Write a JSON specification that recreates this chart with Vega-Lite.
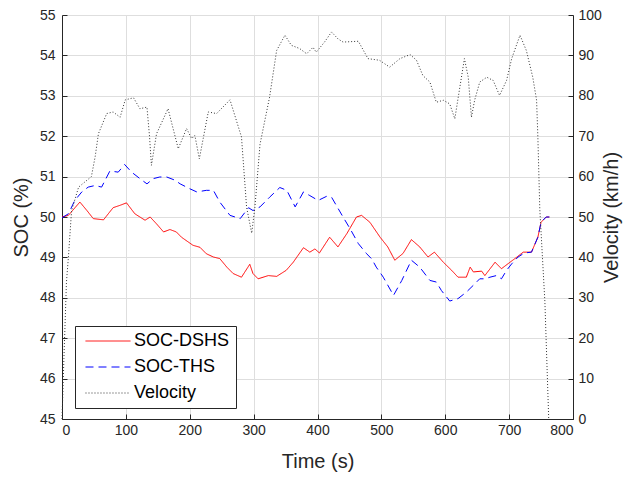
{
  "$schema": "https://vega.github.io/schema/vega-lite/v6.json",
  "width": 511,
  "height": 404,
  "autosize": "none",
  "padding": {"left": 62, "top": 15, "right": 66, "bottom": 58},
  "background": "white",
  "config": {
    "view": {"stroke": null},
    "font": "Liberation Sans",
    "axis": {
      "labelFont": "Liberation Sans",
      "titleFont": "Liberation Sans",
      "labelFontSize": 14,
      "titleFontSize": 20,
      "titleFontWeight": "normal",
      "labelColor": "#262626",
      "titleColor": "#262626",
      "domainColor": "#262626",
      "tickColor": "#262626",
      "gridColor": "#dedede",
      "tickSize": -5
    },
    "legend": {
      "labelFont": "Liberation Sans",
      "labelFontSize": 18,
      "labelColor": "#000000"
    }
  },
  "datasets": {
    "soc": [
      {"t": 0, "soc": 50.0, "series": "SOC-DSHS"},
      {"t": 10, "soc": 50.04, "series": "SOC-DSHS"},
      {"t": 28, "soc": 50.37, "series": "SOC-DSHS"},
      {"t": 39, "soc": 50.16, "series": "SOC-DSHS"},
      {"t": 49, "soc": 49.96, "series": "SOC-DSHS"},
      {"t": 65, "soc": 49.93, "series": "SOC-DSHS"},
      {"t": 80, "soc": 50.23, "series": "SOC-DSHS"},
      {"t": 91, "soc": 50.29, "series": "SOC-DSHS"},
      {"t": 101, "soc": 50.35, "series": "SOC-DSHS"},
      {"t": 114, "soc": 50.08, "series": "SOC-DSHS"},
      {"t": 130, "soc": 49.92, "series": "SOC-DSHS"},
      {"t": 138, "soc": 50.0, "series": "SOC-DSHS"},
      {"t": 148, "soc": 49.83, "series": "SOC-DSHS"},
      {"t": 159, "soc": 49.63, "series": "SOC-DSHS"},
      {"t": 169, "soc": 49.69, "series": "SOC-DSHS"},
      {"t": 179, "soc": 49.63, "series": "SOC-DSHS"},
      {"t": 187, "soc": 49.5, "series": "SOC-DSHS"},
      {"t": 205, "soc": 49.3, "series": "SOC-DSHS"},
      {"t": 216, "soc": 49.25, "series": "SOC-DSHS"},
      {"t": 226, "soc": 49.09, "series": "SOC-DSHS"},
      {"t": 237, "soc": 49.01, "series": "SOC-DSHS"},
      {"t": 247, "soc": 48.97, "series": "SOC-DSHS"},
      {"t": 258, "soc": 48.76, "series": "SOC-DSHS"},
      {"t": 268, "soc": 48.6, "series": "SOC-DSHS"},
      {"t": 281, "soc": 48.51, "series": "SOC-DSHS"},
      {"t": 294, "soc": 48.83, "series": "SOC-DSHS"},
      {"t": 299, "soc": 48.6, "series": "SOC-DSHS"},
      {"t": 307, "soc": 48.47, "series": "SOC-DSHS"},
      {"t": 323, "soc": 48.55, "series": "SOC-DSHS"},
      {"t": 336, "soc": 48.53, "series": "SOC-DSHS"},
      {"t": 351, "soc": 48.68, "series": "SOC-DSHS"},
      {"t": 362, "soc": 48.88, "series": "SOC-DSHS"},
      {"t": 378, "soc": 49.24, "series": "SOC-DSHS"},
      {"t": 388, "soc": 49.13, "series": "SOC-DSHS"},
      {"t": 396, "soc": 49.21, "series": "SOC-DSHS"},
      {"t": 403, "soc": 49.11, "series": "SOC-DSHS"},
      {"t": 419, "soc": 49.5, "series": "SOC-DSHS"},
      {"t": 432, "soc": 49.26, "series": "SOC-DSHS"},
      {"t": 446, "soc": 49.59, "series": "SOC-DSHS"},
      {"t": 461, "soc": 50.0, "series": "SOC-DSHS"},
      {"t": 469, "soc": 50.04, "series": "SOC-DSHS"},
      {"t": 482, "soc": 49.87, "series": "SOC-DSHS"},
      {"t": 498, "soc": 49.5, "series": "SOC-DSHS"},
      {"t": 510, "soc": 49.26, "series": "SOC-DSHS"},
      {"t": 521, "soc": 48.93, "series": "SOC-DSHS"},
      {"t": 534, "soc": 49.1, "series": "SOC-DSHS"},
      {"t": 547, "soc": 49.44, "series": "SOC-DSHS"},
      {"t": 560, "soc": 49.26, "series": "SOC-DSHS"},
      {"t": 573, "soc": 49.01, "series": "SOC-DSHS"},
      {"t": 583, "soc": 49.13, "series": "SOC-DSHS"},
      {"t": 597, "soc": 48.88, "series": "SOC-DSHS"},
      {"t": 610, "soc": 48.68, "series": "SOC-DSHS"},
      {"t": 620, "soc": 48.51, "series": "SOC-DSHS"},
      {"t": 633, "soc": 48.51, "series": "SOC-DSHS"},
      {"t": 639, "soc": 48.76, "series": "SOC-DSHS"},
      {"t": 644, "soc": 48.64, "series": "SOC-DSHS"},
      {"t": 657, "soc": 48.66, "series": "SOC-DSHS"},
      {"t": 662, "soc": 48.55, "series": "SOC-DSHS"},
      {"t": 678, "soc": 48.88, "series": "SOC-DSHS"},
      {"t": 688, "soc": 48.72, "series": "SOC-DSHS"},
      {"t": 698, "soc": 48.84, "series": "SOC-DSHS"},
      {"t": 709, "soc": 48.97, "series": "SOC-DSHS"},
      {"t": 722, "soc": 49.13, "series": "SOC-DSHS"},
      {"t": 735, "soc": 49.13, "series": "SOC-DSHS"},
      {"t": 745, "soc": 49.5, "series": "SOC-DSHS"},
      {"t": 750, "soc": 49.87, "series": "SOC-DSHS"},
      {"t": 758, "soc": 50.0, "series": "SOC-DSHS"},
      {"t": 763, "soc": 50.0, "series": "SOC-DSHS"},
      {"t": 0, "soc": 49.98, "series": "SOC-THS"},
      {"t": 10, "soc": 50.08, "series": "SOC-THS"},
      {"t": 20, "soc": 50.41, "series": "SOC-THS"},
      {"t": 31, "soc": 50.62, "series": "SOC-THS"},
      {"t": 41, "soc": 50.74, "series": "SOC-THS"},
      {"t": 52, "soc": 50.78, "series": "SOC-THS"},
      {"t": 62, "soc": 50.74, "series": "SOC-THS"},
      {"t": 75, "soc": 51.14, "series": "SOC-THS"},
      {"t": 88, "soc": 51.11, "series": "SOC-THS"},
      {"t": 98, "soc": 51.3, "series": "SOC-THS"},
      {"t": 109, "soc": 51.11, "series": "SOC-THS"},
      {"t": 122, "soc": 50.95, "series": "SOC-THS"},
      {"t": 133, "soc": 50.82, "series": "SOC-THS"},
      {"t": 143, "soc": 50.95, "series": "SOC-THS"},
      {"t": 153, "soc": 50.99, "series": "SOC-THS"},
      {"t": 164, "soc": 50.99, "series": "SOC-THS"},
      {"t": 177, "soc": 50.91, "series": "SOC-THS"},
      {"t": 185, "soc": 50.82, "series": "SOC-THS"},
      {"t": 200, "soc": 50.7, "series": "SOC-THS"},
      {"t": 211, "soc": 50.62, "series": "SOC-THS"},
      {"t": 226, "soc": 50.66, "series": "SOC-THS"},
      {"t": 237, "soc": 50.66, "series": "SOC-THS"},
      {"t": 247, "soc": 50.37, "series": "SOC-THS"},
      {"t": 263, "soc": 50.04, "series": "SOC-THS"},
      {"t": 279, "soc": 49.96, "series": "SOC-THS"},
      {"t": 292, "soc": 50.23, "series": "SOC-THS"},
      {"t": 299, "soc": 50.16, "series": "SOC-THS"},
      {"t": 310, "soc": 50.25, "series": "SOC-THS"},
      {"t": 325, "soc": 50.49, "series": "SOC-THS"},
      {"t": 341, "soc": 50.73, "series": "SOC-THS"},
      {"t": 352, "soc": 50.66, "series": "SOC-THS"},
      {"t": 365, "soc": 50.25, "series": "SOC-THS"},
      {"t": 378, "soc": 50.62, "series": "SOC-THS"},
      {"t": 388, "soc": 50.53, "series": "SOC-THS"},
      {"t": 401, "soc": 50.41, "series": "SOC-THS"},
      {"t": 414, "soc": 50.51, "series": "SOC-THS"},
      {"t": 422, "soc": 50.49, "series": "SOC-THS"},
      {"t": 440, "soc": 50.0, "series": "SOC-THS"},
      {"t": 451, "soc": 49.71, "series": "SOC-THS"},
      {"t": 464, "soc": 49.34, "series": "SOC-THS"},
      {"t": 477, "soc": 49.09, "series": "SOC-THS"},
      {"t": 485, "soc": 48.96, "series": "SOC-THS"},
      {"t": 492, "soc": 48.76, "series": "SOC-THS"},
      {"t": 503, "soc": 48.51, "series": "SOC-THS"},
      {"t": 519, "soc": 48.06, "series": "SOC-THS"},
      {"t": 532, "soc": 48.43, "series": "SOC-THS"},
      {"t": 547, "soc": 48.93, "series": "SOC-THS"},
      {"t": 560, "soc": 48.76, "series": "SOC-THS"},
      {"t": 576, "soc": 48.43, "series": "SOC-THS"},
      {"t": 586, "soc": 48.39, "series": "SOC-THS"},
      {"t": 594, "soc": 48.18, "series": "SOC-THS"},
      {"t": 607, "soc": 47.92, "series": "SOC-THS"},
      {"t": 620, "soc": 47.98, "series": "SOC-THS"},
      {"t": 633, "soc": 48.14, "series": "SOC-THS"},
      {"t": 644, "soc": 48.31, "series": "SOC-THS"},
      {"t": 654, "soc": 48.47, "series": "SOC-THS"},
      {"t": 662, "soc": 48.47, "series": "SOC-THS"},
      {"t": 670, "soc": 48.51, "series": "SOC-THS"},
      {"t": 680, "soc": 48.55, "series": "SOC-THS"},
      {"t": 688, "soc": 48.47, "series": "SOC-THS"},
      {"t": 696, "soc": 48.68, "series": "SOC-THS"},
      {"t": 704, "soc": 48.84, "series": "SOC-THS"},
      {"t": 714, "soc": 49.01, "series": "SOC-THS"},
      {"t": 724, "soc": 49.11, "series": "SOC-THS"},
      {"t": 735, "soc": 49.13, "series": "SOC-THS"},
      {"t": 745, "soc": 49.5, "series": "SOC-THS"},
      {"t": 750, "soc": 49.87, "series": "SOC-THS"},
      {"t": 758, "soc": 50.0, "series": "SOC-THS"},
      {"t": 763, "soc": 50.0, "series": "SOC-THS"}
    ],
    "vel": [
      {"t": 0, "v": 0, "series": "Velocity"},
      {"t": 3, "v": 15, "series": "Velocity"},
      {"t": 7, "v": 34, "series": "Velocity"},
      {"t": 10, "v": 40, "series": "Velocity"},
      {"t": 15, "v": 51.6, "series": "Velocity"},
      {"t": 26, "v": 57.4, "series": "Velocity"},
      {"t": 46, "v": 60, "series": "Velocity"},
      {"t": 52, "v": 65, "series": "Velocity"},
      {"t": 57, "v": 70.6, "series": "Velocity"},
      {"t": 70, "v": 75.6, "series": "Velocity"},
      {"t": 80, "v": 76, "series": "Velocity"},
      {"t": 91, "v": 74.7, "series": "Velocity"},
      {"t": 99, "v": 79, "series": "Velocity"},
      {"t": 112, "v": 79.5, "series": "Velocity"},
      {"t": 122, "v": 76.8, "series": "Velocity"},
      {"t": 133, "v": 77.2, "series": "Velocity"},
      {"t": 137, "v": 70, "series": "Velocity"},
      {"t": 140, "v": 62.8, "series": "Velocity"},
      {"t": 148, "v": 70.6, "series": "Velocity"},
      {"t": 166, "v": 76.8, "series": "Velocity"},
      {"t": 182, "v": 66.9, "series": "Velocity"},
      {"t": 195, "v": 71.9, "series": "Velocity"},
      {"t": 203, "v": 69.4, "series": "Velocity"},
      {"t": 208, "v": 70.2, "series": "Velocity"},
      {"t": 215, "v": 64.4, "series": "Velocity"},
      {"t": 229, "v": 76, "series": "Velocity"},
      {"t": 242, "v": 75.6, "series": "Velocity"},
      {"t": 263, "v": 79, "series": "Velocity"},
      {"t": 281, "v": 69.8, "series": "Velocity"},
      {"t": 289, "v": 52.4, "series": "Velocity"},
      {"t": 297, "v": 46, "series": "Velocity"},
      {"t": 302, "v": 52.4, "series": "Velocity"},
      {"t": 310, "v": 68, "series": "Velocity"},
      {"t": 325, "v": 79.7, "series": "Velocity"},
      {"t": 336, "v": 91.2, "series": "Velocity"},
      {"t": 349, "v": 95, "series": "Velocity"},
      {"t": 359, "v": 92.5, "series": "Velocity"},
      {"t": 372, "v": 91.7, "series": "Velocity"},
      {"t": 383, "v": 90.4, "series": "Velocity"},
      {"t": 393, "v": 92, "series": "Velocity"},
      {"t": 398, "v": 90.8, "series": "Velocity"},
      {"t": 411, "v": 93.3, "series": "Velocity"},
      {"t": 422, "v": 95.8, "series": "Velocity"},
      {"t": 432, "v": 94.1, "series": "Velocity"},
      {"t": 440, "v": 93.3, "series": "Velocity"},
      {"t": 464, "v": 93.5, "series": "Velocity"},
      {"t": 479, "v": 89.2, "series": "Velocity"},
      {"t": 497, "v": 88.8, "series": "Velocity"},
      {"t": 513, "v": 87.1, "series": "Velocity"},
      {"t": 529, "v": 89.2, "series": "Velocity"},
      {"t": 545, "v": 90.2, "series": "Velocity"},
      {"t": 555, "v": 88.8, "series": "Velocity"},
      {"t": 565, "v": 85, "series": "Velocity"},
      {"t": 576, "v": 83.4, "series": "Velocity"},
      {"t": 586, "v": 78.4, "series": "Velocity"},
      {"t": 597, "v": 78.9, "series": "Velocity"},
      {"t": 607, "v": 78, "series": "Velocity"},
      {"t": 615, "v": 74.3, "series": "Velocity"},
      {"t": 620, "v": 79.3, "series": "Velocity"},
      {"t": 630, "v": 89.2, "series": "Velocity"},
      {"t": 636, "v": 84.6, "series": "Velocity"},
      {"t": 641, "v": 74.7, "series": "Velocity"},
      {"t": 646, "v": 78.9, "series": "Velocity"},
      {"t": 654, "v": 83.4, "series": "Velocity"},
      {"t": 665, "v": 84.6, "series": "Velocity"},
      {"t": 675, "v": 83.8, "series": "Velocity"},
      {"t": 685, "v": 80.1, "series": "Velocity"},
      {"t": 696, "v": 83.8, "series": "Velocity"},
      {"t": 704, "v": 89.2, "series": "Velocity"},
      {"t": 717, "v": 95, "series": "Velocity"},
      {"t": 727, "v": 91.2, "series": "Velocity"},
      {"t": 737, "v": 84.6, "series": "Velocity"},
      {"t": 743, "v": 78.9, "series": "Velocity"},
      {"t": 745, "v": 69.8, "series": "Velocity"},
      {"t": 748, "v": 52, "series": "Velocity"},
      {"t": 756, "v": 29, "series": "Velocity"},
      {"t": 762, "v": 0, "series": "Velocity"}
    ]
  },
  "encoding": {
    "x": {
      "field": "t", "type": "quantitative",
      "scale": {"domain": [0, 800], "nice": false},
      "axis": {"title": "Time (s)", "values": [0,100,200,300,400,500,600,700,800], "grid": true, "labelPadding": 9, "titlePadding": 14}
    },
    "color": {
      "field": "series", "type": "nominal",
      "scale": {"domain": ["SOC-DSHS", "SOC-THS", "Velocity"], "range": ["#ff0000", "#0000ff", "#333333"]},
      "legend": {
        "title": null,
        "orient": "none",
        "legendX": 13,
        "legendY": 311,
        "fillColor": "white",
        "strokeColor": "#262626",
        "padding": 6,
        "symbolType": "M-4.8,0H4.8",
        "symbolSize": 88,
        "symbolStrokeWidth": 1,
        "symbolOffset": 18,
        "labelOffset": 17,
        "rowPadding": 8
      }
    },
    "strokeDash": {
      "field": "series", "type": "nominal",
      "scale": {"domain": ["SOC-DSHS", "SOC-THS", "Velocity"], "range": [[1, 0], [8, 5], [1, 2]]},
      "legend": null
    }
  },
  "layer": [
    {
      "data": {"name": "soc"},
      "mark": {"type": "line", "strokeWidth": 1},
      "encoding": {
        "y": {
          "field": "soc", "type": "quantitative",
          "scale": {"domain": [45, 55], "nice": false},
          "axis": {"title": "SOC (%)", "values": [45,46,47,48,49,50,51,52,53,54,55], "grid": true, "labelPadding": 12, "titlePadding": 8}
        }
      }
    },
    {
      "data": {"name": "vel"},
      "mark": {"type": "line", "strokeWidth": 1},
      "encoding": {
        "y": {
          "field": "v", "type": "quantitative",
          "scale": {"domain": [0, 100], "nice": false},
          "axis": {"title": "Velocity (km/h)", "orient": "right", "titleAngle": 270, "titleBaseline": "top", "values": [0,10,20,30,40,50,60,70,80,90,100], "grid": false, "labelPadding": 10, "titlePadding": 0}
        }
      }
    }
  ],
  "resolve": {"scale": {"y": "independent"}}
}
